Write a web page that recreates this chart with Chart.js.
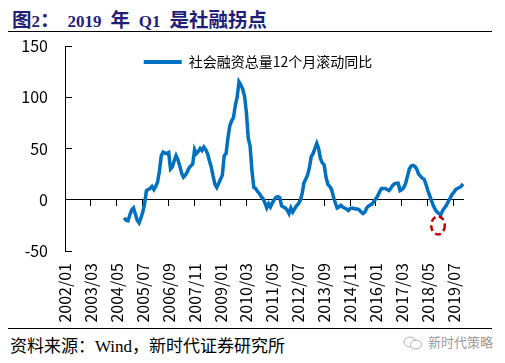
<!DOCTYPE html>
<html>
<head>
<meta charset="utf-8">
<script src="https://cdn.jsdelivr.net/npm/chart.js@4/dist/chart.umd.min.js"></script>
<style>
  html, body { margin: 0; padding: 0; background: #fff; }
  body { width: 505px; height: 363px; position: relative; overflow: hidden; }
  .title { position: absolute; left: 12px; top: 4px; font: bold 19.5px "Liberation Serif", "Noto Sans CJK SC", serif; color: #1f1f7a; white-space: pre; word-spacing: 4px; }
  .title .lat { font-size: 17px; }
  .title .gap { margin-left: 8px; }
  .rule { position: absolute; left: 8px; width: 484px; height: 0; border-top: 1.5px solid #000; }
  .chart-box { position: absolute; left: 0; top: 32px; width: 505px; height: 296px; }
  .source { position: absolute; left: 10px; top: 332px; font: 17px "Liberation Serif", "Noto Sans CJK SC", serif; color: #000; white-space: pre; }
  .mark { position: absolute; left: 403px; top: 332px; color: #9a9a9a; font: 13px "Noto Sans CJK SC", sans-serif; white-space: pre; }
  .mark svg { vertical-align: -3px; margin-right: 5px; }
</style>
</head>
<body>
<div class="title">图<span class="lat">2</span>：<span class="lat gap">2019</span> 年 <span class="lat">Q1</span> 是社融拐点</div>
<div class="rule" style="top: 31px"></div>
<div class="chart-box"><canvas id="chart"></canvas></div>
<div class="rule" style="top: 328px"></div>
<div class="source">资料来源：Wind，新时代证券研究所</div>
<div class="mark"><svg width="20" height="14" viewBox="0 0 20 14"><ellipse cx="7" cy="6" rx="6" ry="5" fill="none" stroke="#b0b0b0" stroke-width="1"/><ellipse cx="13" cy="8.5" rx="5.5" ry="4.5" fill="#fff" stroke="#b0b0b0" stroke-width="1"/></svg>新时代策略</div>

<script>
// monthly categories 2002/01 .. 2019/12
const START_YEAR = 2002;
const END_YEAR = 2019;
const TICK_EVERY = 14; // one axis label every 14 months

const months = [];
for (let y = START_YEAR; y <= END_YEAR; y++) {
  for (let m = 1; m <= 12; m++) months.push(y + "/" + String(m).padStart(2, "0"));
}

// 社会融资总量12个月滚动同比 (%), one row per year
const tsfRollingYoy = [
  null, null, null, null, null, null, null, null, null, null, null, null,        // 2002
  null, null, null, null, null, null, null, null, null, null, null, null,        // 2003
  null, null, null, null, null, null, null, null, -17.6, -20, -20.5, -15,        // 2004
  -10, -8, -14, -20, -22.5, -18, -12, -4, 9, 10, 11, 13,                         // 2005
  10, 13, 17, 28, 43, 46.5, 45.5, 45, 46, 30, 32, 38,                            // 2006
  43, 39, 33, 26, 22, 24, 27, 31, 33, 35, 49, 45,                                // 2007
  47, 50, 48, 51.5, 49, 45, 38, 32, 23, 15, 12, 16,                              // 2008
  20, 24, 43, 45, 60, 72, 77, 80, 92, 100, 115, 112,                             // 2009
  108, 101, 85, 60, 52, 28, 12, 11, 8, 6, 3, 1,                                  // 2010
  -3, -8, -4, -7, -3, 0, 2.5, 3, 2, -6, -7, -8,                                  // 2011
  -10, -13.5, -8, -12, -9, -6, -4, -1, 5, 16, 20, 24,                            // 2012
  31, 42, 45, 50, 55, 50, 40, 36, 34, 22, 15, 13,                                // 2013
  10, 3, -3, -8, -7, -5.5, -7, -8, -9, -10.5, -8.5, -8,                          // 2014
  -8.5, -9, -9, -10, -12, -13.5, -12, -8, -6, -5, -4, -1,                        // 2015
  1, 4, 8, 11, 11, 11, 10, 9, 11, 14, 15.5, 16,                                  // 2016
  16, 9, 10, 12, 16, 23, 30, 33, 33.5, 32.5, 30, 25,                             // 2017
  23, 21, 20, 15, 9, 4, -1, -6, -9.5, -12, -13.5, -14.5,                         // 2018
  -10.5, -8, -5.5, -2, 1.5, 5, 7, 10, 11, 12, 13, 15.5,                          // 2019
];

const SERIES_LABEL = "社会融资总量12个月滚动同比";
const Y_MIN = -50;
const Y_MAX = 150;
const Y_STEP = 50;

// dashed red ring marking the trough: [month index, value]
const RING_AT = [201.5, -25];

const BLUE = "#0070C0";
const AXIS_FONT = '"Noto Sans CJK SC", "Noto Sans", sans-serif';

function keepEveryTick(axis) {
  axis.ticks = axis.ticks.filter((t) => t.value % TICK_EVERY === 0);
}

// legend drawn inside the plot area instead of above it
const legendInside = {
  id: "legendInside",
  beforeInit(chart) {
    const legend = chart.legend;
    const fit = legend.fit;
    legend.fit = function () {
      fit.call(this);
      this.realHeight = this.height;
      this.height = 0;
    };
  },
  afterLayout(chart) {
    const legend = chart.legend;
    legend.top = chart.chartArea.top + 3;
    legend.height = legend.realHeight;
    legend.bottom = legend.top + legend.height;
    legend.left -= 6;
    legend.right -= 6;
  },
};

const dashedRing = {
  id: "dashedRing",
  afterDatasetsDraw(chart) {
    const { ctx, scales } = chart;
    const cx = scales.x.getPixelForValue(RING_AT[0]);
    const cy = scales.y.getPixelForValue(RING_AT[1]);
    ctx.save();
    ctx.strokeStyle = "#C00000";
    ctx.lineWidth = 2.5;
    ctx.setLineDash([6, 3.5]);
    ctx.beginPath();
    ctx.ellipse(cx, cy, 6.8, 9, 0, 0, Math.PI * 2);
    ctx.stroke();
    ctx.restore();
  },
};

new Chart(document.getElementById("chart"), {
  type: "line",
  data: {
    labels: months,
    datasets: [{
      label: SERIES_LABEL,
      data: tsfRollingYoy,
      borderColor: BLUE,
      backgroundColor: BLUE,
      borderWidth: 3.5,
      pointRadius: 0,
      tension: 0,
      xAxisID: "x",
      yAxisID: "y",
    }],
  },
  options: {
    responsive: true,
    maintainAspectRatio: false,
    animation: false,
    devicePixelRatio: 1,
    layout: { padding: { left: 22, right: 42, top: 14, bottom: 6 } },
    plugins: {
      tooltip: { enabled: false },
      legend: {
        display: true,
        position: "top",
        fullSize: false,
        labels: {
          boxWidth: 38,
          boxHeight: 4,
          padding: 6,
          color: "#000",
          font: { family: AXIS_FONT, size: 14 },
          generateLabels: (chart) => chart.data.datasets.map((ds, i) => ({
            text: ds.label,
            fillStyle: ds.borderColor,
            strokeStyle: ds.borderColor,
            lineWidth: 0,
            hidden: false,
            datasetIndex: i,
            fontColor: "#000",
          })),
        },
      },
    },
    scales: {
      x: {
        type: "category",
        position: "bottom",
        offset: false,
        afterBuildTicks: keepEveryTick,
        afterFit(scale) {
          scale.height = 71;
        },
        grid: { display: false, drawTicks: false },
        border: { display: false },
        ticks: {
          autoSkip: false,
          minRotation: 90,
          maxRotation: 90,
          padding: 12,
          color: "#000",
          font: { family: AXIS_FONT, size: 16 },
        },
      },
      // zero line with the month tick marks
      x0: {
        type: "category",
        position: { y: 0 },
        offset: false,
        afterBuildTicks: keepEveryTick,
        grid: { drawOnChartArea: false, drawTicks: true, tickLength: 6, color: "#000", lineWidth: 1 },
        border: { display: true, color: "#000", width: 1 },
        ticks: { display: false, autoSkip: false },
      },
      y: {
        min: Y_MIN,
        max: Y_MAX,
        afterFit(scale) {
          scale.width = 43;
          scale.paddingTop = 10;
          scale.paddingBottom = 10;
        },
        grid: { drawOnChartArea: false, drawTicks: true, tickLength: -7, color: "#000", lineWidth: 1 },
        border: { display: true, color: "#000", width: 1 },
        ticks: {
          stepSize: Y_STEP,
          padding: 24,
          color: "#000",
          font: { family: AXIS_FONT, size: 16 },
        },
      },
    },
  },
  plugins: [legendInside, dashedRing],
});
</script>
</body>
</html>
